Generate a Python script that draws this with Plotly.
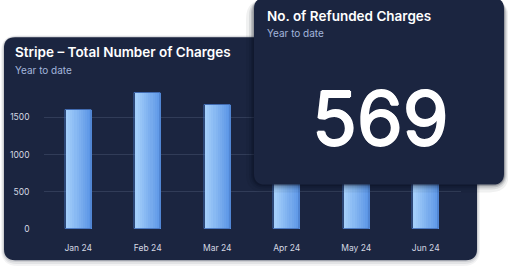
import plotly.graph_objects as go

W, H = 508, 273

months = ["Jan 24", "Feb 24", "Mar 24", "Apr 24", "May 24", "Jun 24"]
charges = [1600, 1820, 1660, 1700, 1750, 1680]
y_ticks = [0, 500, 1000, 1500]
refunded_total = 569

card_color = "#1b2540"
grad_left = (163, 206, 250)
grad_right = (92, 150, 230)


def px(x):
    return x / W


def py(y):
    return 1 - y / H


def rr(x0, y0, x1, y1, r):
    X = lambda v: f"{px(v):.5f}"
    Y = lambda v: f"{py(v):.5f}"
    return (f"M {X(x0 + r)},{Y(y0)} L {X(x1 - r)},{Y(y0)} Q {X(x1)},{Y(y0)} {X(x1)},{Y(y0 + r)} "
            f"L {X(x1)},{Y(y1 - r)} Q {X(x1)},{Y(y1)} {X(x1 - r)},{Y(y1)} "
            f"L {X(x0 + r)},{Y(y1)} Q {X(x0)},{Y(y1)} {X(x0)},{Y(y1 - r)} "
            f"L {X(x0)},{Y(y0 + r)} Q {X(x0)},{Y(y0)} {X(x0 + r)},{Y(y0)} Z")


fig = go.Figure()

# gradient bars as slices
N = 12
bw = 0.37
for i in range(N):
    t = i / (N - 1)
    c = tuple(round(grad_left[k] + (grad_right[k] - grad_left[k]) * t) for k in range(3))
    fig.add_trace(go.Bar(
        x=months, y=charges,
        width=bw / N + 0.002, offset=-bw / 2 + i * bw / N,
        marker=dict(color=f"rgb{c}", line=dict(width=0)),
        showlegend=False, hoverinfo="skip",
    ))
# thin outline
fig.add_trace(go.Bar(
    x=months, y=charges, width=bw, offset=-bw / 2,
    marker=dict(color="rgba(0,0,0,0)", line=dict(width=1, color="rgba(70,115,190,0.9)")),
    showlegend=False, hoverinfo="skip",
))

shapes = []
# back card shadow
for d, op in [(6, 0.05), (4, 0.07), (2, 0.10)]:
    shapes.append(dict(type="path", xref="paper", yref="paper", layer="below",
                       path=rr(4 - d / 2, 38 - d / 3, 477 + d / 2, 265 + d, 11 + d),
                       fillcolor=f"rgba(20,25,45,{op})", line=dict(width=0)))
shapes.append(dict(type="path", xref="paper", yref="paper", layer="below",
                   path=rr(4, 38, 477, 265, 11), fillcolor=card_color, line=dict(width=0)))
# front card shadow
for d, op in [(8, 0.06), (5, 0.09), (3, 0.14), (1.5, 0.2)]:
    shapes.append(dict(type="path", xref="paper", yref="paper", layer="above",
                       path=rr(254 - d, 0, 504 + d * 0.6, 188 + d, 11 + d),
                       fillcolor=f"rgba(5,10,25,{op})", line=dict(width=0)))
shapes.append(dict(type="path", xref="paper", yref="paper", layer="above",
                   path=rr(254, -2, 504, 188, 11), fillcolor=card_color, line=dict(width=0)))

annotations = [
    dict(text="Stripe – Total Number of Charges", x=px(13), y=py(53), xref="paper", yref="paper",
         xanchor="left", yanchor="middle", showarrow=False,
         font=dict(family="Inter", size=13.5, color="#ffffff", weight=600)),
    dict(text="Year to date", x=px(13), y=py(71), xref="paper", yref="paper",
         xanchor="left", yanchor="middle", showarrow=False,
         font=dict(family="Inter", size=10, color="#a3b5dc")),
    dict(text="No. of Refunded Charges", x=px(265), y=py(16), xref="paper", yref="paper",
         xanchor="left", yanchor="middle", showarrow=False,
         font=dict(family="Inter", size=13.5, color="#ffffff", weight=600)),
    dict(text="Year to date", x=px(265), y=py(34), xref="paper", yref="paper",
         xanchor="left", yanchor="middle", showarrow=False,
         font=dict(family="Inter", size=10, color="#a3b5dc")),
    dict(text=str(refunded_total), x=px(380), y=py(120), xref="paper", yref="paper",
         xanchor="center", yanchor="middle", showarrow=False,
         font=dict(family="Inter", size=74, color="#ffffff",
                   shadow="1px 0px 0px #ffffff, -1px 0px 0px #ffffff, 0px 0.7px 0px #ffffff, 0px -0.7px 0px #ffffff")),
]

fig.update_layout(
    width=W, height=H,
    margin=dict(l=0, r=0, t=0, b=0),
    paper_bgcolor="#ffffff", plot_bgcolor="rgba(0,0,0,0)",
    barmode="overlay", bargap=0,
    shapes=shapes, annotations=annotations,
    xaxis=dict(domain=[px(43.5), px(460.5)], range=[-0.5, 5.5], type="category",
               showgrid=False, zeroline=False, showline=False, ticks="",
               ticklabelstandoff=12,
               tickfont=dict(family="Inter", size=8.5, color="#d5d9e3")),
    yaxis=dict(domain=[py(233.5), py(81.5)], range=[0, 2000], tickvals=y_ticks,
               showgrid=True, gridcolor="#313c58", gridwidth=1, zeroline=False, showline=False,
               ticks="", ticklabelstandoff=13,
               tickfont=dict(family="Inter", size=8.5, color="#d5d9e3")),
)

fig.write_html("out.html")
